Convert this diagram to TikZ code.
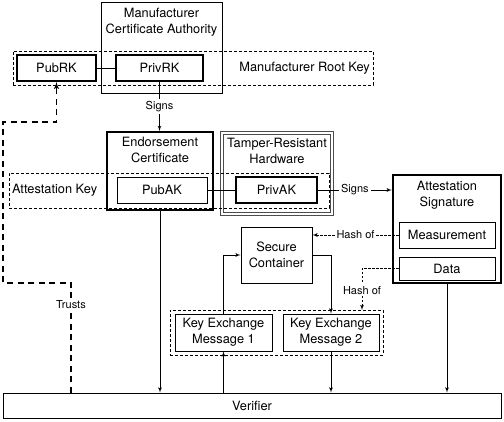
\documentclass[tikz,border=0pt]{standalone}
\usepackage{fontspec}
\setmainfont{TeX Gyre Heros}
\usepackage{tikz}
\usetikzlibrary{arrows}

\begin{document}
\begin{tikzpicture}[x=1pt,y=-1pt,>=latex',
    box/.style={draw,line width=0.8pt,inner sep=0pt,align=center,font=\fontsize{12.8}{16}\selectfont},
    keybox/.style={box,line width=2pt},
    group/.style={draw,line width=0.8pt,dash pattern=on 3pt off 2pt,inner sep=3pt,font=\fontsize{12.8}{16}\selectfont},
    hwbox/.style={box,double=white,double distance=1.6pt,draw=black!70},
    link/.style={line width=0.8pt},
    hash/.style={line width=0.8pt,dash pattern=on 2.5pt off 1.5pt},
    trust/.style={line width=1.4pt,dash pattern=on 6pt off 4.5pt},
    tag/.style={fill=white,inner sep=2pt,font=\fontsize{11}{13}\selectfont}]
                \useasboundingbox (0,0) rectangle (504,422);

                \node (rootkey) at (193,68) [group,minimum width=360,minimum height=34,
                    label={[anchor=east,font=\fontsize{12.8}{16}\selectfont]east:Manufacturer Root Key}] {};
                \node (ca) at (161.5,47.5) [box,minimum width=121,minimum height=91,
                    label={[anchor=north,align=center,yshift=-3pt,font=\fontsize{12.8}{16}\selectfont]north:Manufacturer\\Certificate Authority}] {};
                \node (pubrk) at (56.5,68) [keybox,minimum width=79,minimum height=26] {PubRK};
                \node (privrk) at (159.5,68) [keybox,minimum width=87,minimum height=26] {PrivRK};

                \node (endorse) at (160,171) [keybox,minimum width=106,minimum height=78,
                    label={[anchor=north,align=center,yshift=-3pt,font=\fontsize{12.8}{16}\selectfont]north:Endorsement\\Certificate}] {};
                \node (tamper) at (277,173.5) [hwbox,minimum width=110,minimum height=81,
                    label={[anchor=north,align=center,yshift=-2pt,font=\fontsize{12.8}{16}\selectfont]north:Tamper-Resistant\\Hardware}] {};
                \node (attkey) at (169,190.5) [group,minimum width=320,minimum height=35,
                    label={[anchor=west,font=\fontsize{12.8}{16}\selectfont]west:Attestation Key}] {};
                \node (pubak) at (162,190) [box,minimum width=90,minimum height=26] {PubAK};
                \node (privak) at (276.5,190) [keybox,minimum width=81,minimum height=26] {PrivAK};

                \node (attsig) at (447,229) [keybox,line width=2.4pt,minimum width=108,minimum height=108,
                    label={[anchor=north,align=center,yshift=-4pt,font=\fontsize{12.8}{16}\selectfont]north:Attestation\\Signature}] {};
                \node (meas) at (447,235) [box,minimum width=96,minimum height=26] {Measurement};
                \node (data) at (447,268.5) [box,minimum width=96,minimum height=23] {Data};

                \node (secure) at (276.5,255) [box,minimum width=71,minimum height=56] {Secure\\Container};

                \node (kexgroup) at (276.5,332.5) [group,minimum width=213,minimum height=45] {};
                \node (kem1) at (223.5,332.5) [box,minimum width=97,minimum height=37] {Key Exchange\\Message 1};
                \node (kem2) at (331,332.5) [box,minimum width=96,minimum height=37] {Key Exchange\\Message 2};

                \node (verifier) at (252,405.5) [box,minimum width=498,minimum height=25] {Verifier};

                \coordinate (trustfoot) at (71,393);
                \coordinate (trustcorner) at (3,283);
                \coordinate (trustbend) at (3,122);
                \coordinate (hashdrop) at (362,310);

                \draw[link] (pubrk.east) -- (privrk.west);
                \draw[link,->] (privrk.south) -- (privrk.south |- endorse.north) node[tag,pos=0.5] {Signs};
                \draw[link] (pubak.east) -- (privak.west);
                \draw[link,->] (privak.east) -- (privak.east -| attsig.west) node[tag,midway] {Signs};
                \draw[hash,->] (meas.west) -- (meas.west -| secure.east) node[tag,midway] {Hash of};
                \draw[hash,->] (data.west) -| (hashdrop) node[tag,pos=0.76] {Hash of};
                \draw[link,->] (kem1.north) |- (secure.west);
                \draw[link,->] (secure.east) -| (kem2.north);
                \draw[link,->] (endorse.south) -- (endorse.south |- verifier.north);
                \draw[link,->] (kem1.south |- verifier.north) -- (kem1.south);
                \draw[link,->] (kem2.south) -- (kem2.south |- verifier.north);
                \draw[link,->] (attsig.south) -- (attsig.south |- verifier.north);
                \draw[trust,->] (trustfoot) |- node[tag,pos=0.4] {Trusts} (trustcorner) -- (trustbend) -| (pubrk.south);
            \end{tikzpicture}
\end{document}
